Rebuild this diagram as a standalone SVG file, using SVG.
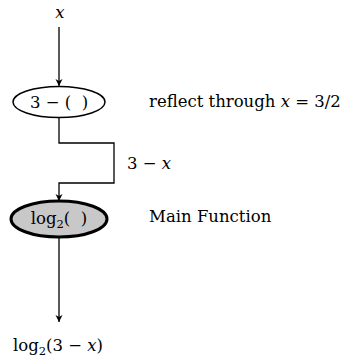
<svg xmlns="http://www.w3.org/2000/svg" width="353" height="357" viewBox="0 0 353 357">
<style>
text{font-family:"DejaVu Serif","Liberation Serif",serif;font-size:16.5px;fill:#000}
.m{font-style:italic}
.c{text-anchor:middle}
.s{font-size:11.5px}
.ln{fill:none;stroke:#000;stroke-width:1.3}
</style>
<defs>
<marker id="ah" markerWidth="8" markerHeight="8" refX="7" refY="4" orient="auto" markerUnits="userSpaceOnUse">
<path d="M0,0.5 L7,4 L0,7.5 L2,4 Z" fill="#000"/>
</marker>
</defs>
<g id="connectors">
<line class="ln" x1="59" y1="27" x2="59" y2="86" marker-end="url(#ah)"/>
<polyline class="ln" points="59,117 59,143 114,143 114,183 59,183 59,201" marker-end="url(#ah)"/>
<line class="ln" x1="59" y1="237" x2="59" y2="322" marker-end="url(#ah)"/>
</g>
<g id="input"><text class="c m" x="60" y="18">x</text></g>
<g id="reflect">
<ellipse cx="59" cy="102" rx="46" ry="15.5" fill="#fff" stroke="#000" stroke-width="1.5"/>
<text class="c" x="59" y="108" xml:space="preserve">3 − (  )</text>
</g>
<g id="label-3x"><text x="127" y="169">3 − <tspan class="m">x</tspan></text></g>
<g id="main">
<ellipse cx="59" cy="219" rx="48" ry="18" fill="#c8c8c8" stroke="#000" stroke-width="3"/>
<text class="c" x="59" y="224" xml:space="preserve">log<tspan class="s" dy="4">2</tspan><tspan dy="-4">(  )</tspan></text>
</g>
<g id="output"><text class="c" x="58" y="351">log<tspan class="s" dy="4">2</tspan><tspan dy="-4">(3 − <tspan class="m">x</tspan>)</tspan></text></g>
<g id="notes">
<text x="149" y="107">reflect through <tspan class="m">x</tspan> = 3/2</text>
<text x="149" y="222">Main Function</text>
</g>
</svg>
